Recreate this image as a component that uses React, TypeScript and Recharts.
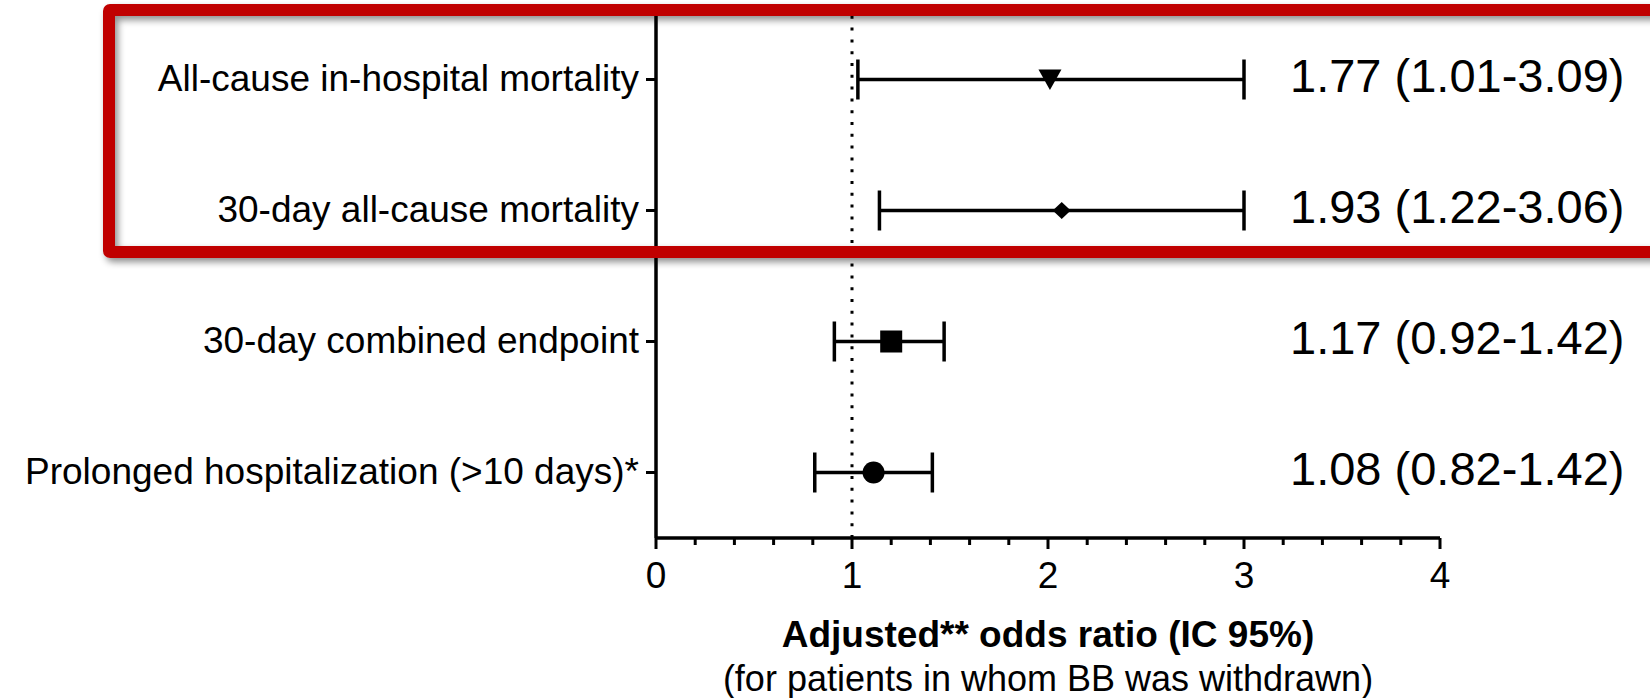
import {
  ComposedChart, Scatter, ErrorBar, XAxis, YAxis, ReferenceLine,
} from 'recharts'

const OUTCOMES = [
  'All-cause in-hospital mortality',
  '30-day all-cause mortality',
  '30-day combined endpoint',
  'Prolonged hospitalization (>10 days)*',
]

// where the marks sit on the axis (they don't quite match the printed numbers)
const ODDS    = [2.01, 2.07, 1.2, 1.11]
const CI_LOW  = [1.03, 1.14, 0.91, 0.81]
const CI_HIGH = [3.0, 3.0, 1.47, 1.41]

const OR_LABELS = [
  '1.77 (1.01-3.09)',
  '1.93 (1.22-3.06)',
  '1.17 (0.92-1.42)',
  '1.08 (0.82-1.42)',
]

const MARKERS = ['triangleDown', 'diamond', 'square', 'circle']

const X_TICKS = [0, 0.2, 0.4, 0.6, 0.8, 1, 1.2, 1.4, 1.6, 1.8, 2,
  2.2, 2.4, 2.6, 2.8, 3, 3.2, 3.4, 3.6, 3.8, 4]
const X_MAJOR = [0, 1, 2, 3, 4]

const INK = '#000'
const FONT = '"Liberation Sans", Arial, sans-serif'
// half a row of empty space above the first and below the last outcome
const ROW_PAD = { top: 65.5, bottom: 65.5 }

const rows = OUTCOMES.map((name, i) => ({
  name,
  odds: ODDS[i],
  err: [ODDS[i] - CI_LOW[i], CI_HIGH[i] - ODDS[i]],
  marker: MARKERS[i],
}))

function Marker(props: any) {
  const { cx, cy, payload } = props
  if (cx == null || cy == null) return null
  switch (payload.marker) {
    case 'triangleDown':
      return <path d={`M${cx - 11.5},${cy - 10}L${cx + 11.5},${cy - 10}L${cx},${cy + 10.5}Z`} fill={INK} />
    case 'diamond':
      return <path d={`M${cx},${cy - 8.5}L${cx + 9},${cy}L${cx},${cy + 8.5}L${cx - 9},${cy}Z`} fill={INK} />
    case 'square':
      return <rect x={cx - 11} y={cy - 11} width={22} height={22} fill={INK} />
    default:
      return <circle cx={cx} cy={cy} r={11} fill={INK} />
  }
}

function XTick({ x, y, payload }: any) {
  const major = X_MAJOR.includes(payload.value)
  return (
    <g>
      <line x1={x} x2={x} y1={y} y2={y + (major ? 11 : 7)} stroke={INK} strokeWidth={3} />
      {major && (
        <text x={x} y={y + 50} textAnchor="middle" fill={INK} fontSize={37} fontFamily={FONT}>
          {payload.value}
        </text>
      )}
    </g>
  )
}

function OrTick({ x, y, payload }: any) {
  const i = OUTCOMES.indexOf(payload.value)
  return (
    <text x={x - 150} y={y + 12} fill={INK} fontSize={47} fontFamily={FONT}>
      {OR_LABELS[i]}
    </text>
  )
}

function AxisTitle({ viewBox }: any) {
  const cx = viewBox.x + viewBox.width / 2
  return (
    <g fontFamily={FONT} fill={INK} textAnchor="middle">
      <text x={cx} y={viewBox.y + 109} fontSize={37} fontWeight="bold">
        Adjusted** odds ratio (IC 95%)
      </text>
      <text x={cx} y={viewBox.y + 153} fontSize={36}>
        (for patients in whom BB was withdrawn)
      </text>
    </g>
  )
}

export default function App() {
  return (
    <div style={{ position: 'absolute', left: 0, top: 0, width: 1650, height: 698,
                  overflow: 'hidden', background: '#fff' }}>
      <ComposedChart width={1650} height={698} layout="vertical" data={rows}
                     margin={{ top: 14, right: 0, bottom: 0, left: 0 }}>
        <XAxis type="number" domain={[0, 4]} ticks={X_TICKS} interval={0}
               height={160} tickSize={0} tickMargin={0} tickLine={false}
               axisLine={{ stroke: INK, strokeWidth: 3.5 }}
               tick={XTick} label={<AxisTitle />} />
        <YAxis type="category" dataKey="name" width={656} interval={0}
               padding={ROW_PAD} tickSize={10} tickMargin={7}
               axisLine={{ stroke: INK, strokeWidth: 3.5 }}
               tickLine={{ stroke: INK, strokeWidth: 3 }}
               tick={{ fill: INK, fontSize: 37, fontFamily: FONT, dy: -2 }} />
        <YAxis yAxisId="right" orientation="right" type="category" dataKey="name"
               width={210} interval={0} padding={ROW_PAD} tickSize={0} tickMargin={0}
               axisLine={false} tickLine={false} tick={OrTick} />
        <ReferenceLine x={1} stroke={INK} strokeWidth={3} strokeDasharray="3 8.8" />
        <Scatter dataKey="odds" shape={Marker} isAnimationActive={false}>
          <ErrorBar dataKey="err" direction="x" width={20} stroke={INK}
                    strokeWidth={3.5} isAnimationActive={false} />
        </Scatter>
        <Scatter yAxisId="right" dataKey="odds" shape={() => <g />} isAnimationActive={false} />
      </ComposedChart>
      <div style={{
        position: 'absolute', left: 103, top: 4, width: 1650, height: 254,
        boxSizing: 'border-box', border: '12px solid #C00000', borderRadius: 7,
        boxShadow: '3px 4px 7px rgba(0,0,0,0.45), inset 3px 4px 7px rgba(0,0,0,0.45)',
        pointerEvents: 'none',
      }} />
    </div>
  )
}
